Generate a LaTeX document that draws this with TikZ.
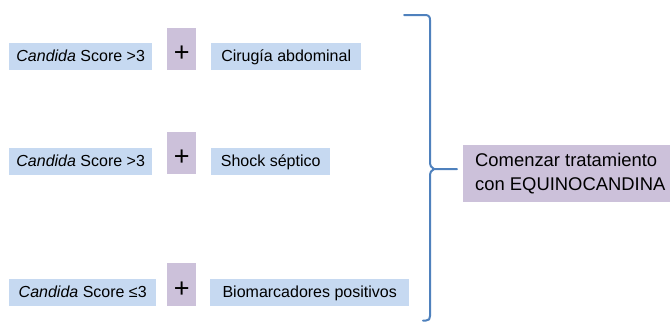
\documentclass[tikz,border=0pt]{standalone}
\usepackage{fontspec}
\setmainfont{Liberation Sans}
\definecolor{boxblue}{RGB}{198,217,241}
\definecolor{boxpurple}{RGB}{204,193,218}
\definecolor{bracecol}{RGB}{79,129,189}
\begin{document}
\begin{tikzpicture}[x=1pt,y=-1pt,
  bluebox/.style={fill=boxblue, inner sep=0pt, anchor=north west,
    minimum height=27pt, text height=12pt, text depth=2pt,
    font=\fontsize{16}{19}\selectfont},
  plusbox/.style={fill=boxpurple, inner sep=0pt, anchor=north west,
    minimum width=29pt, text height=24.8pt, text depth=0pt,
    font=\fontsize{27}{30}\selectfont},
  bigbox/.style={fill=boxpurple, inner xsep=12pt, inner ysep=0pt, anchor=west,
    minimum height=57pt, align=left, font=\fontsize{18.4}{24}\selectfont},
  bracestyle/.style={draw=bracecol, line width=2pt, line cap=round, line join=round}]
\useasboundingbox (0,0) rectangle (670,322);
% row 1
\node[bluebox, minimum width=143pt] (l1) at (9,43) {\textit{Candida} Score >3};
\node[plusbox, minimum height=42pt] (p1) at (167,28) {+};
\node[bluebox, minimum width=150pt] (r1) at (211,43) {Cirugía abdominal};
% row 2
\node[bluebox, minimum width=143pt] (l2) at (9,148) {\textit{Candida} Score >3};
\node[plusbox, minimum height=42pt] (p2) at (167,132) {+};
\node[bluebox, minimum width=119pt] (r2) at (211,148) {Shock séptico};
% row 3
\node[bluebox, minimum width=147pt] (l3) at (9,279) {\textit{Candida} Score ≤3};
\node[plusbox, minimum height=43pt] (p3) at (167,263) {+};
\node[bluebox, minimum width=199pt] (r3) at (210,279) {Biomarcadores positivos};
% result
\node[bigbox] (res) at (463,173.5) {Comenzar tratamiento\\con EQUINOCANDINA};
% brace
\coordinate (tip) at (434,169);
\draw[bracestyle] (404,15) -- (425,15) .. controls (428.5,15) and (430,16.5) .. (430,20)
  -- (430,161) .. controls (430,165.5) and (431,168) .. (tip) -- (457,169);
\draw[bracestyle] (tip) .. controls (431,170) and (430,172.5) .. (430,177)
  -- (430,316) .. controls (430,319) and (429,320.5) .. (426,320.5) -- (423,320.5);
\end{tikzpicture}
\end{document}
